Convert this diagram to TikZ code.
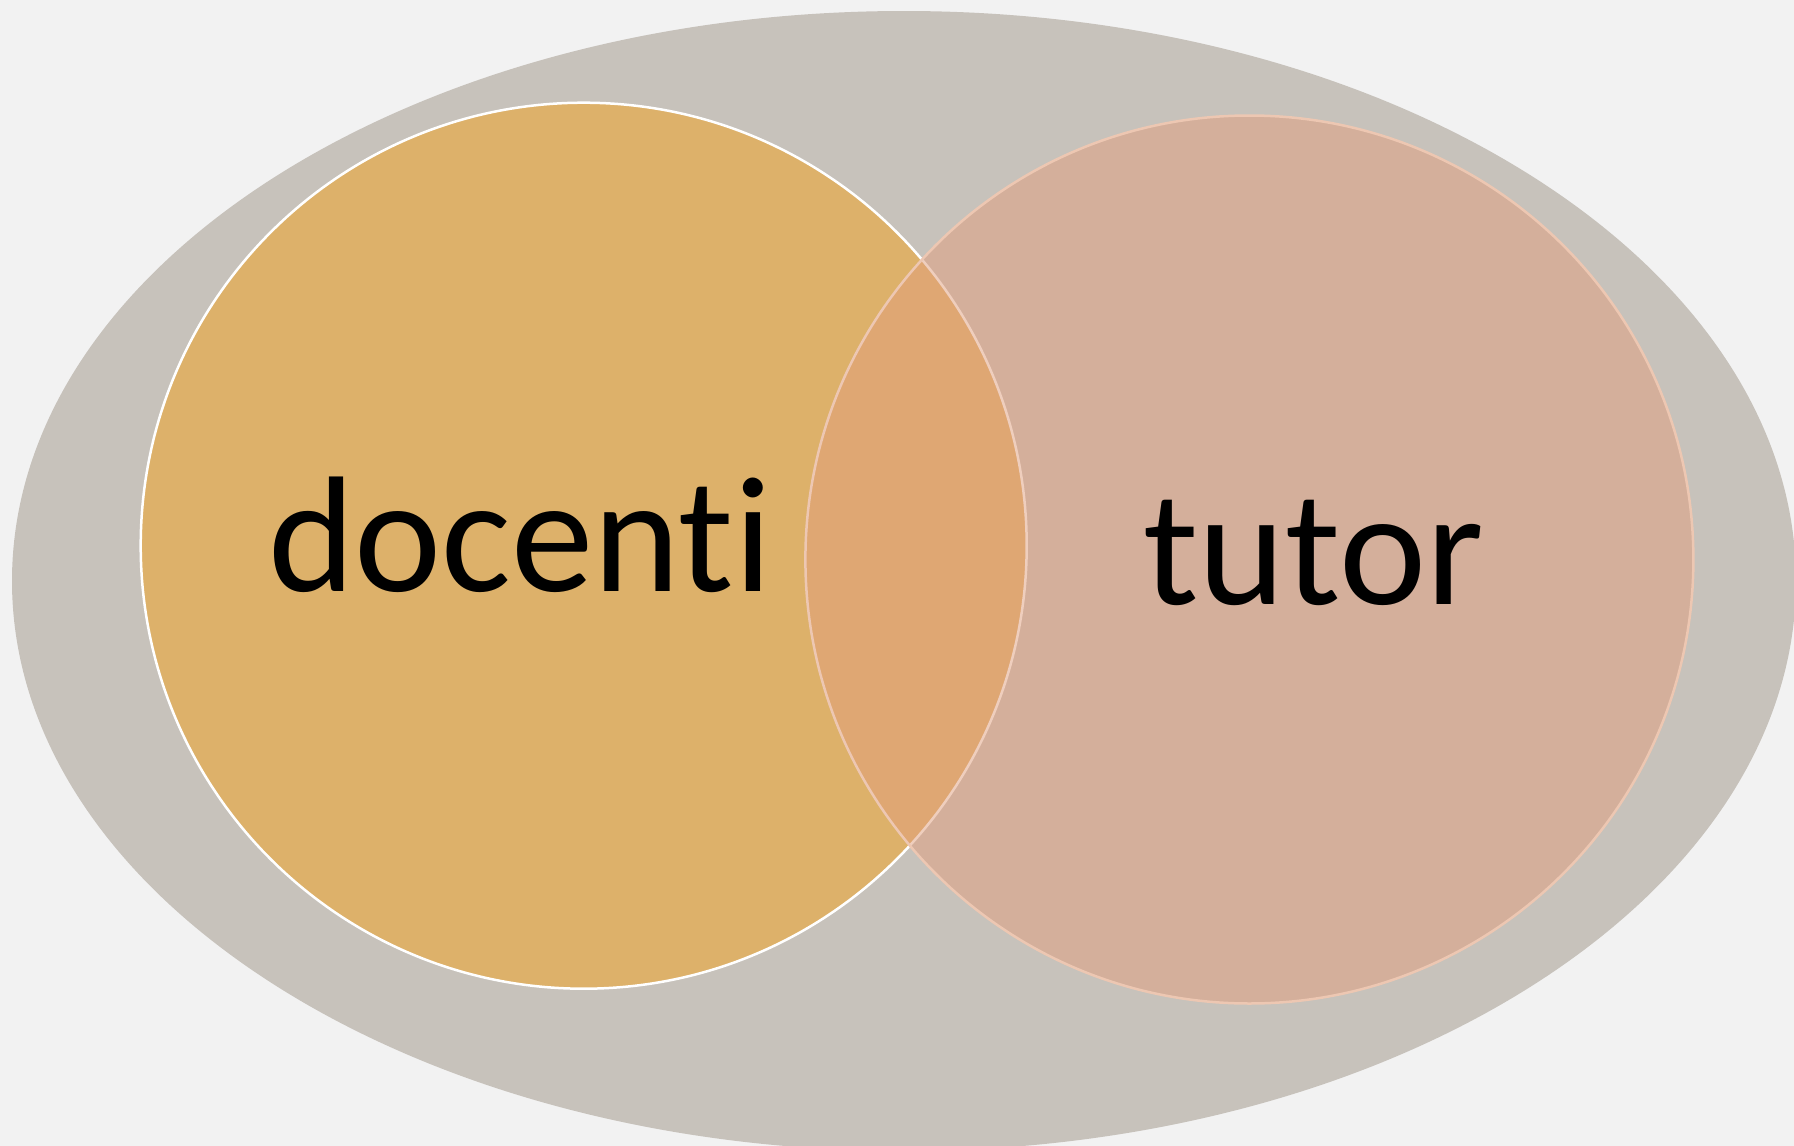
\documentclass[tikz,border=0pt]{standalone}
\usepackage{fontspec}
\setmainfont{Carlito}[Ligatures={NoCommon,NoRare,NoContextual}]
\definecolor{bgcol}{RGB}{242,242,242}
\definecolor{ellcol}{RGB}{199,194,187}
\definecolor{goldcol}{RGB}{221,177,106}
\definecolor{peachcol}{RGB}{225,158,125}
\definecolor{peachline}{RGB}{237,199,178}
\tikzset{
  label text/.style={inner sep=0pt, anchor=base, font=\fontsize{165}{172}\selectfont, text=black}
}
\begin{document}
\begin{tikzpicture}[x=1pt,y=-1pt]
\fill[bgcol] (0,0) rectangle (1794,1146);
\useasboundingbox (0,0) rectangle (1794,1146);
\begin{scope}
\clip (0,0) rectangle (1794,1146);
\fill[ellcol] (904,581) ellipse [x radius=892, y radius=570];
\end{scope}
\filldraw[fill=goldcol, draw=white, line width=2.5pt] (583.7,545.7) circle [radius=443];
\fill[peachcol, fill opacity=0.5] (1249.4,559.5) circle [radius=444];
\draw[peachline, line width=2.5pt] (1249.4,559.5) circle [radius=444];
\node[label text] (docenti) at (520,591.5) {docenti};
\node[label text] (tutor) at (1313.5,604) {tutor};
\end{tikzpicture}
\end{document}
